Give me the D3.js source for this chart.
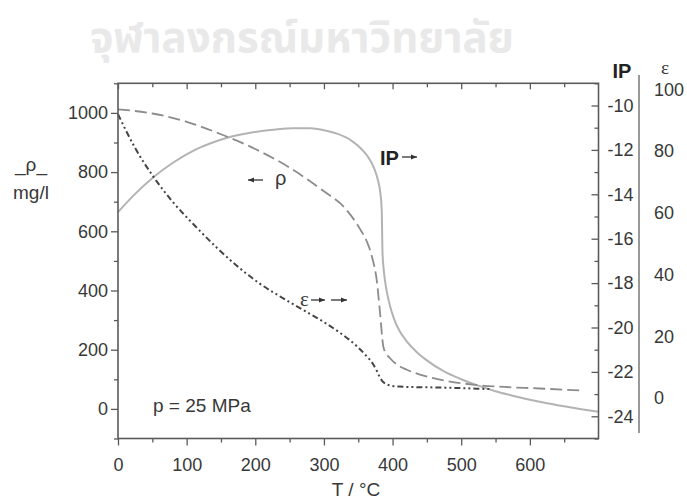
<!DOCTYPE html>
<html>
<head>
<meta charset="utf-8">
<script src="https://cdn.jsdelivr.net/npm/d3@7"></script>
<style>
  html, body { margin: 0; padding: 0; background: #fff; }
  svg { display: block; }
  text { font-family: "Liberation Sans", Arial, sans-serif; fill: #383838; }
</style>
</head>
<body>
<svg id="chart" width="687" height="501"></svg>
<script>
// ---------- data ----------
const tRho   = [0, 50, 100, 150, 200, 250, 300, 330, 352, 362, 370, 377.4, 381.7, 386.5, 391, 396, 405, 420, 440, 469, 517, 556, 614, 676];
const rhoVal = [1012, 998, 970, 928, 878, 815, 735, 680, 610, 568, 514, 426, 325, 211, 186, 172, 152, 133, 116, 99, 82, 75, 69, 62];

const tIP    = [0, 25, 52, 80, 110, 135, 159, 185, 207, 230, 255, 280, 305, 320, 340, 355, 367, 374, 379, 382, 384.2, 385.3, 386.8, 389, 392, 396, 402, 410, 420, 435, 450, 475, 500, 525, 550, 575, 600, 625, 650, 675, 700];
const ipVal  = [-14.8, -13.98, -13.22, -12.58, -12.03, -11.7, -11.45, -11.27, -11.16, -11.08, -11.03, -11.03, -11.15, -11.28, -11.58, -11.97, -12.45, -12.9, -13.4, -13.9, -14.7, -16.6, -17.3, -17.9, -18.45, -19.0, -19.6, -20.15, -20.6, -21.1, -21.48, -21.98, -22.33, -22.62, -22.87, -23.07, -23.25, -23.41, -23.55, -23.68, -23.8];

const tEps   = [0, 25, 52, 80, 110, 145, 175, 207, 240, 270, 300, 323, 348, 362, 371, 377, 381, 385, 390, 398, 410, 440, 470, 500, 541];
const epsVal = [92, 81, 71.6, 63.5, 56.3, 48.5, 42.5, 37.0, 32.4, 28.5, 24.6, 21.2, 16.8, 13.6, 11.2, 8.8, 6.9, 5.5, 4.6, 4.0, 3.7, 3.5, 3.4, 3.2, 2.9];

const xTickLabels   = [0, 100, 200, 300, 400, 500, 600];
const rhoTickLabels = [0, 200, 400, 600, 800, 1000];
const ipTickLabels  = [-10, -12, -14, -16, -18, -20, -22, -24];
const epsTickLabels = [0, 20, 40, 60, 80, 100];
const watermark = "จุฬาลงกรณ์มหาวิทยาลัย";

// ---------- layout ----------
const L = 118, R = 598.5, T = 83.3, B = 438.5;
const svg = d3.select("#chart");

const x   = d3.scaleLinear().domain([0, 700]).range([L, R]);
const yR  = d3.scaleLinear().domain([-100, 1100]).range([B, T]);
const yIP = d3.scaleLinear().domain([-25, -9]).range([B, T]);
const yE  = d3.scaleLinear().domain([-11.5, 104.5]).range([433.5, 75.6]);

// watermark
svg.append("text")
  .attr("x", 302).attr("y", 52)
  .attr("text-anchor", "middle")
  .style("font-family", "'Noto Sans Thai', 'Noto Serif Thai', Tahoma, 'DejaVu Sans', sans-serif")
  .style("font-size", "42px").style("font-weight", "bold")
  .style("fill", "#e9e9e9")
  .text(watermark);

// curves
const frameColor = "#5a5a5a";
function addLine(ts, vs, scale, stroke, width, dash) {
  const pts = ts.map((t, i) => [x(t), scale(vs[i])]);
  svg.append("path")
    .attr("d", d3.line().curve(d3.curveMonotoneX)(pts))
    .attr("fill", "none").attr("stroke", stroke)
    .attr("stroke-width", width)
    .attr("stroke-dasharray", dash);
}
addLine(tIP, ipVal, yIP, "#b3b3b3", 2, null);
addLine(tRho, rhoVal, yR, "#8c8c8c", 1.8, "12,5");
addLine(tEps, epsVal, yE, "#454545", 2, "6,3,2,3,2,3");

// axes helpers
function styleAxis(g) {
  g.select(".domain").remove();
  g.selectAll("line").attr("stroke", frameColor).attr("stroke-width", 1.3);
  g.selectAll("text").style("font-size", "18px").style("fill", "#383838");
}
const range = (a, b, s) => d3.range(a, b + s / 2, s);

// bottom axis (outward)
svg.append("g").attr("transform", `translate(0,${B})`)
  .call(d3.axisBottom(x).tickValues(range(50, 650, 100)).tickSize(4).tickFormat(""))
  .call(styleAxis);
svg.append("g").attr("transform", `translate(0,${B})`)
  .call(d3.axisBottom(x).tickValues(xTickLabels).tickSize(7).tickPadding(13).tickFormat(d3.format("d")))
  .call(styleAxis);
// top ticks (inward)
svg.append("g").attr("transform", `translate(0,${T})`)
  .call(d3.axisBottom(x).tickValues(range(50, 650, 100)).tickSize(4).tickFormat(""))
  .call(styleAxis);
svg.append("g").attr("transform", `translate(0,${T})`)
  .call(d3.axisBottom(x).tickValues(xTickLabels).tickSize(6).tickFormat(""))
  .call(styleAxis);

// left axis (outward)
svg.append("g").attr("transform", `translate(${L},0)`)
  .call(d3.axisLeft(yR).tickValues(range(-100, 1100, 200)).tickSize(4).tickFormat(""))
  .call(styleAxis);
svg.append("g").attr("transform", `translate(${L},0)`)
  .call(d3.axisLeft(yR).tickValues(rhoTickLabels).tickSize(7).tickPadding(3).tickFormat(d3.format("d")))
  .call(styleAxis);

// right IP axis (inward ticks, labels outside)
svg.append("g").attr("transform", `translate(${R},0)`)
  .call(d3.axisLeft(yIP).tickValues(range(-25, -9, 2)).tickSize(4).tickFormat(""))
  .call(styleAxis);
svg.append("g").attr("transform", `translate(${R},0)`)
  .call(d3.axisRight(yIP).tickValues(ipTickLabels).tickSize(0).tickPadding(9).tickFormat(d => d3.format("d")(d).replace("−", "-")))
  .call(styleAxis);
svg.append("g").attr("transform", `translate(${R},0)`)
  .call(d3.axisLeft(yIP).tickValues(ipTickLabels).tickSize(7).tickFormat(""))
  .call(styleAxis);

// epsilon axis (line + labels)
svg.append("g").attr("transform", `translate(639,0)`)
  .call(d3.axisRight(yE).tickValues(epsTickLabels).tickSize(0).tickPadding(15).tickFormat(d3.format("d")))
  .call(styleAxis);
svg.append("line").attr("x1", 639).attr("x2", 639).attr("y1", 75).attr("y2", 433)
  .attr("stroke", "#777").attr("stroke-width", 1.5);

// frame
svg.append("rect").attr("x", L).attr("y", T).attr("width", R - L).attr("height", B - T)
  .attr("fill", "none").attr("stroke", frameColor).attr("stroke-width", 1.6);

// axis titles
svg.append("text").attr("x", 31).attr("y", 171).attr("text-anchor", "middle")
  .style("font-size", "19px").text("_ρ_");
svg.append("text").attr("x", 31).attr("y", 199).attr("text-anchor", "middle")
  .style("font-size", "19px").text("mg/l");
svg.append("text").attr("x", 356).attr("y", 496).attr("text-anchor", "middle")
  .style("font-size", "19px").text("T / °C");
svg.append("text").attr("x", 622).attr("y", 78).attr("text-anchor", "middle")
  .style("font-size", "20px").style("font-weight", "bold").style("fill", "#222").text("IP");
svg.append("text").attr("x", 665).attr("y", 74).attr("text-anchor", "middle")
  .style("font-size", "19px").style("font-family", "'Liberation Serif', serif").text("ε");

// in-plot annotations
function arrow(x1, x2, y) {
  svg.append("line").attr("x1", x1).attr("x2", x2).attr("y1", y).attr("y2", y)
    .attr("stroke", "#333").attr("stroke-width", 1.3);
  const dir = Math.sign(x2 - x1);
  svg.append("path")
    .attr("d", `M${x2},${y} L${x2 - dir * 6},${y - 2.5} L${x2 - dir * 6},${y + 2.5} Z`)
    .attr("fill", "#333");
}
svg.append("text").attr("x", 380).attr("y", 165)
  .style("font-size", "20px").style("font-weight", "bold").style("fill", "#222").text("IP");
arrow(402, 417, 157);
arrow(263, 248, 180);
svg.append("text").attr("x", 275).attr("y", 185).style("font-size", "20px").text("ρ");
svg.append("text").attr("x", 300).attr("y", 306)
  .style("font-size", "21px").style("font-family", "'Liberation Serif', serif").text("ε");
arrow(311, 325, 300);
arrow(331, 347, 300);
svg.append("text").attr("x", 153).attr("y", 412).style("font-size", "19px").text("p = 25 MPa");
</script>
</body>
</html>
